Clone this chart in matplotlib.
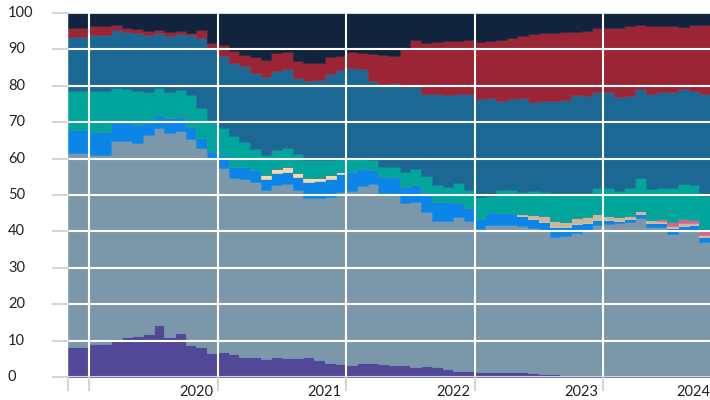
import numpy as np
import matplotlib
matplotlib.use("Agg")
import matplotlib.pyplot as plt

plt.rcParams['font.family'] = ['Lato', 'DejaVu Sans']

# monthly values, Nov 2018 .. Oct 2023 (60 months), shares in percent
purple = [8.2, 8.3, 9.0, 9.1, 10.4, 10.9, 11.4, 11.7, 14.3, 10.9, 12.0, 8.8, 8.3, 6.5, 7.0,
          6.3, 5.4, 5.4, 4.9, 5.5, 5.2, 5.2, 5.5, 4.7, 3.9, 3.6, 3.3, 3.8, 3.9, 3.7,
          3.4, 3.3, 2.8, 3.0, 2.8, 2.2, 1.7, 1.7, 1.3, 1.4, 1.4, 1.5, 1.5, 1.2, 0.9,
          0.8, 0.6, 0.4, 0.3, 0.2, 0.1, 0.1, 0.1, 0.1, 0.1, 0.1, 0.1, 0.1, 0.1, 0.1]
grey = [53.3, 53.2, 52.0, 51.9, 54.5, 54.0, 52.8, 54.8, 54.2, 56.2, 55.7, 56.5, 54.7, 53.5, 50.3,
        48.5, 49.1, 48.3, 46.5, 47.2, 47.7, 46.2, 43.6, 44.6, 45.5, 47.3, 47.9, 48.7, 49.0, 46.9,
        47.0, 44.4, 45.2, 42.4, 40.1, 40.7, 42.3, 41.2, 39.4, 40.4, 40.4, 40.3, 40.0, 39.8, 39.5,
        37.7, 38.1, 39.2, 40.1, 41.6, 41.9, 42.3, 42.6, 43.5, 41.0, 41.0, 39.3, 40.3, 40.3, 37.1]
blue = [6.4, 6.4, 6.4, 6.4, 4.8, 4.8, 5.0, 3.2, 3.5, 4.0, 3.6, 3.5, 2.6, 1.9, 3.7,
        3.0, 3.3, 3.2, 3.1, 3.4, 3.5, 3.6, 4.6, 4.6, 4.9, 5.0, 5.2, 4.6, 4.0, 4.3,
        4.5, 4.4, 4.7, 5.2, 5.1, 5.1, 3.9, 3.4, 2.6, 3.3, 3.3, 3.3, 2.8, 2.3, 2.3,
        2.6, 2.4, 2.4, 2.0, 1.3, 1.1, 0.5, 0.7, 1.1, 1.1, 1.1, 1.4, 1.1, 1.3, 1.3]
peach = [0] * 18 + [1.1, 1.0, 1.4, 1.1, 0.9, 0.9, 1.2, 0.5] + [0] * 34
tan = [0] * 42 + [0.4, 1.2, 1.4, 1.8, 1.6, 1.6, 1.6, 1.6, 1.2, 1.1, 0.8, 0.9, 1.0,
                  0.6, 0.8, 0.7, 0.7, 0.6]
pink = [0] * 55 + [0.5, 1.1, 1.2, 0.7, 1.0]
teal = [10.7, 10.7, 11.2, 11.2, 9.7, 9.3, 9.5, 8.7, 7.5, 7.3, 7.5, 8.7, 8.3, 8.8, 7.5,
        8.3, 6.8, 5.8, 5.4, 5.4, 5.0, 5.2, 5.1, 4.9, 4.2, 3.7, 3.4, 2.9, 2.7, 2.9,
        2.9, 4.2, 4.5, 4.5, 4.7, 4.3, 5.5, 5.1, 6.2, 4.5, 6.2, 6.2, 6.2, 6.6, 6.6,
        7.6, 7.8, 7.0, 6.6, 7.3, 7.5, 7.2, 7.8, 9.2, 8.4, 8.7, 9.3, 9.6, 9.6, 9.7]
steel = [14.9, 14.9, 15.4, 15.4, 15.9, 15.9, 15.7, 15.6, 14.9, 15.4, 15.3, 16.5, 19.3, 19.3, 19.8,
         20.1, 20.9, 20.8, 21.4, 21.7, 21.7, 20.9, 21.6, 21.9, 23.5, 24.2, 25.0, 24.6, 21.7, 22.8,
         23.0, 23.4, 22.7, 22.6, 25.0, 25.2, 24.3, 26.3, 26.9, 27.0, 24.6, 25.0, 25.8, 24.4, 25.1,
         25.2, 25.6, 26.9, 26.7, 26.2, 26.4, 25.8, 25.3, 24.2, 26.1, 26.2, 26.4, 26.0, 25.9, 27.9]
red = [2.4, 2.4, 2.5, 2.5, 1.4, 1.1, 1.1, 1.1, 0.9, 1.1, 1.0, 0.5, 2.2, 1.8, 2.9,
       3.3, 3.0, 4.4, 4.8, 4.7, 4.7, 4.6, 5.0, 4.8, 4.6, 3.9, 4.4, 4.5, 7.4, 7.9,
       7.4, 10.6, 12.8, 14.1, 14.3, 14.8, 14.6, 14.9, 15.7, 15.7, 16.7, 16.7, 17.0, 18.6, 18.6,
       18.9, 18.7, 17.4, 17.8, 17.8, 17.8, 18.8, 19.1, 17.7, 18.8, 18.2, 18.0, 17.2, 18.1, 19.0]
navy = [4.1, 4.1, 3.5, 3.5, 3.3, 4.0, 4.5, 4.9, 4.7, 5.1, 4.9, 5.5, 4.6, 8.2, 8.8,
        10.5, 11.5, 12.1, 12.8, 11.1, 10.8, 13.2, 13.7, 13.6, 12.2, 11.8, 10.8, 10.9, 11.3, 11.5,
        11.8, 9.7, 7.3, 8.2, 8.0, 7.7, 7.7, 7.4, 7.9, 7.7, 7.4, 7.0, 6.3, 5.9, 5.6,
        5.4, 5.2, 5.1, 4.9, 4.0, 4.0, 4.2, 3.6, 3.3, 3.5, 3.6, 3.6, 3.8, 3.3, 3.3]

series = [purple, grey, blue, peach, tan, pink, teal, steel, red, navy]
colors = ['#514897', '#7b98ab', '#0b86e8', '#fdd7a1', '#c8b89b', '#d8628f',
          '#00a59c', '#1b6895', '#9c2535', '#12233d']

year_ticks = [2, 14, 26, 38, 50]
year_labels = ['2020', '2021', '2022', '2023', '2024']
year_label_pos = [12, 24, 36, 48, 60]

W, H = 710, 400
fig = plt.figure(figsize=(W / 100, H / 100), dpi=100)
ax = fig.add_axes([68 / W, 23 / H, 642 / W, 364 / H])

x = np.arange(len(purple) + 1)
ys = [np.append(s, s[-1]) for s in series]
ax.stackplot(x, *ys, colors=colors, step='post', edgecolor='face', linewidth=0.4)

ax.set_xlim(0, 60)
ax.set_ylim(0, 100)
ax.axis('off')

text_color = '#222222'
grid_grey = '#d6d6d6'
ax_w, ax_h = 642, 364

# horizontal grid: white over the areas, grey stubs at the left
for v in range(0, 101, 10):
    if 0 < v < 100:
        ax.axhline(v, color='white', lw=1.5, zorder=3)
    else:
        ax.axhline(v, color=grid_grey, lw=1.5, zorder=3)
    ax.plot([-15 / ax_w, 0], [v, v], transform=ax.get_yaxis_transform(),
            color=grid_grey, lw=1.5, clip_on=False, zorder=3)
    ax.text(-60 / ax_w, v, str(v), transform=ax.get_yaxis_transform(),
            ha='left', va='center', fontsize=10.5, color=text_color)

# vertical year lines
for t in year_ticks:
    ax.axvline(t, color='white', lw=1.5, zorder=3)
for t in [0] + year_ticks:
    ax.plot([t, t], [0, -13 / ax_h], transform=ax.get_xaxis_transform(),
            color=grid_grey, lw=1.5, clip_on=False, zorder=3)

for pos, lab in zip(year_label_pos, year_labels):
    ha = 'right' if pos >= 60 else 'center'
    ax.text(pos, -15 / ax_h, lab, transform=ax.get_xaxis_transform(),
            ha=ha, va='center', fontsize=10.5, color=text_color)

fig.savefig('out.png', dpi=100)
